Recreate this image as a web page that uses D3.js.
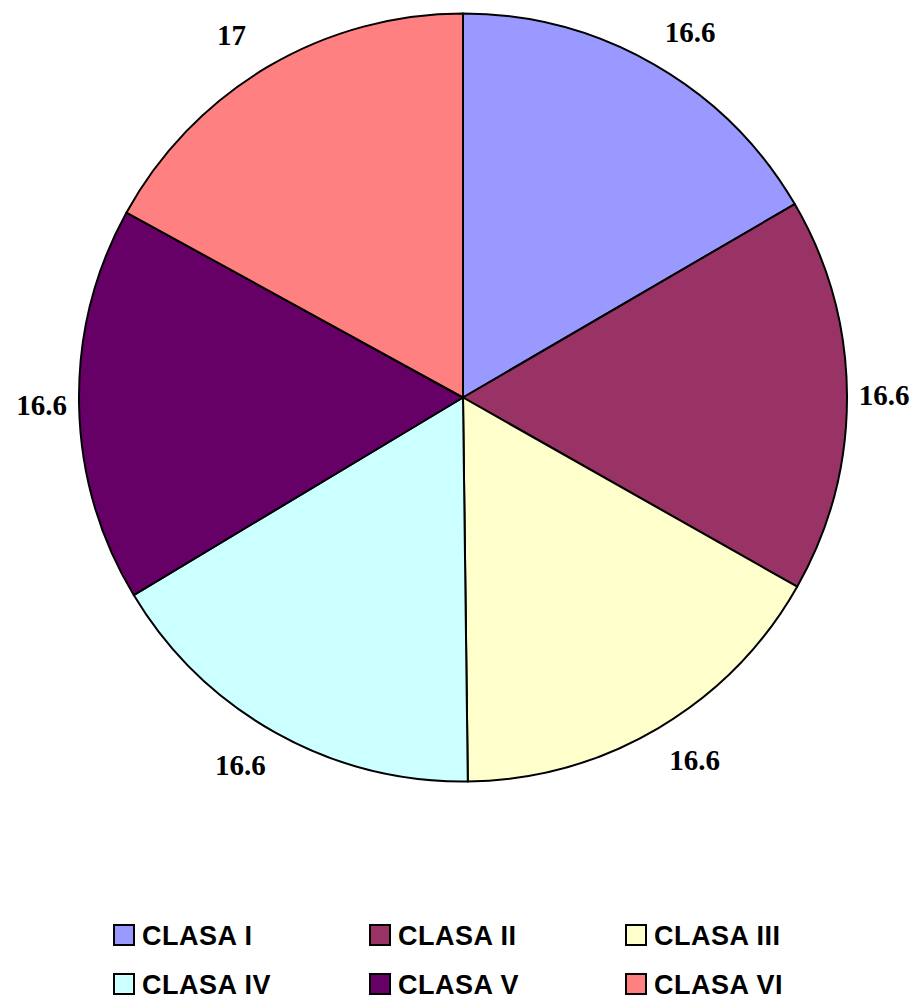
<!DOCTYPE html>
<html>
<head>
<meta charset="utf-8">
<script src="https://cdn.jsdelivr.net/npm/d3@7"></script>
<style>
  body { margin: 0; background: #fff; }
  svg { display: block; }
</style>
</head>
<body>
<svg id="chart" width="920" height="1006"></svg>
<script>
'use strict'
// chart data
const categories = ['CLASA I', 'CLASA II', 'CLASA III', 'CLASA IV', 'CLASA V', 'CLASA VI']
const values = [16.6, 16.6, 16.6, 16.6, 16.6, 17]
const valueLabels = ['16.6', '16.6', '16.6', '16.6', '16.6', '17']
const colors = ['#9999FF', '#993366', '#FFFFCC', '#CCFFFF', '#660066', '#FF8080']

const cx = 463, cy = 397.5, r = 384
const labelR = 421

const svg = d3.select('#chart')
const g = svg.append('g').attr('transform', `translate(${cx} ${cy})`)

const pie = d3.pie().sort(null).value(d => d.value)
const arc = d3.arc().innerRadius(0).outerRadius(r)
const data = pie(values.map((v, i) => ({ value: v, name: categories[i], label: valueLabels[i] })))

g.selectAll('path.slice').data(data).enter().append('path')
  .attr('class', 'slice')
  .attr('d', arc)
  .attr('fill', (d, i) => colors[i])
  .attr('stroke', '#000')
  .attr('stroke-width', 2)
  .attr('stroke-linejoin', 'round')

// value labels outside the pie
const mid = d => (d.startAngle + d.endAngle) / 2
g.selectAll('text.val').data(data).enter().append('text')
  .attr('class', 'val')
  .attr('x', d => labelR * Math.sin(mid(d)) + 20 * Math.sign(Math.sin(mid(d))) * Math.abs(Math.cos(mid(d))))
  .attr('y', d => -labelR * Math.cos(mid(d)))
  .attr('text-anchor', 'middle')
  .attr('dominant-baseline', 'central')
  .attr('font-family', '"Liberation Serif", "Times New Roman", serif')
  .attr('font-weight', 'bold')
  .attr('font-size', 29)
  .attr('fill', '#000')
  .text(d => d.data.label)

// legend, 3 columns x 2 rows
const legendX = d3.scalePoint().domain([0, 1, 2]).range([114, 626])
const legendY = d3.scalePoint().domain([0, 1]).range([935, 984])
const legend = svg.append('g').attr('class', 'legend')
const items = legend.selectAll('g').data(categories).enter().append('g')
  .attr('transform', (d, i) => `translate(${legendX(i % 3)} ${legendY(Math.floor(i / 3))})`)

items.append('rect')
  .attr('x', 0).attr('y', -10)
  .attr('width', 20).attr('height', 20)
  .attr('fill', (d, i) => colors[i])
  .attr('stroke', '#000')
  .attr('stroke-width', 2)

items.append('text')
  .attr('x', 28).attr('y', 1)
  .attr('dominant-baseline', 'central')
  .attr('font-family', '"Liberation Sans", Arial, sans-serif')
  .attr('font-weight', 'bold')
  .attr('font-size', 27)
  .attr('letter-spacing', 0.5)
  .attr('fill', '#000')
  .text(d => d)
</script>
</body>
</html>
